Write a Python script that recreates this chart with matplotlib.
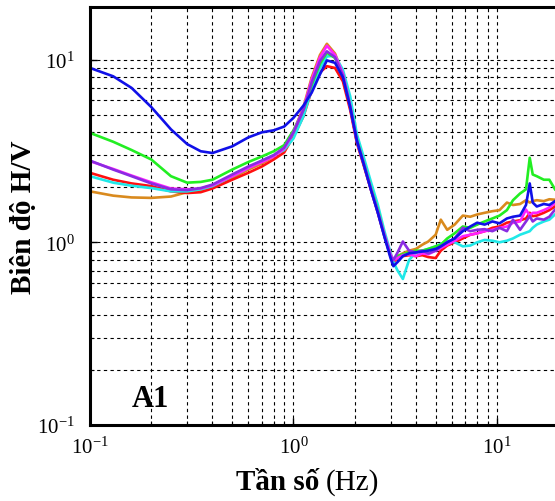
import matplotlib
matplotlib.use("Agg")
import matplotlib.pyplot as plt
from matplotlib.ticker import LogLocator, NullFormatter

plt.rcParams['font.family'] = ['Liberation Serif', 'DejaVu Serif']
plt.rcParams['mathtext.fontset'] = 'custom'
plt.rcParams['mathtext.rm'] = 'Liberation Serif'
plt.rcParams['mathtext.it'] = 'Liberation Serif:italic'
plt.rcParams['mathtext.bf'] = 'Liberation Serif:bold'

freq = [0.10, 0.13, 0.16, 0.20, 0.25, 0.30, 0.35, 0.40, 0.50, 0.60,
        0.70, 0.80, 0.90, 1.00, 1.12, 1.23, 1.35, 1.46, 1.60, 1.75,
        1.90, 2.05, 2.20, 2.40, 2.60, 2.80, 3.00, 3.10, 3.25, 3.45,
        3.70, 4.00, 4.30, 4.60, 5.00, 5.30, 5.70, 6.20, 6.80, 7.40,
        8.00, 8.70, 9.50, 10.3, 11.2, 12.0, 13.0, 13.9, 14.5, 15.0,
        15.7, 17.0, 18.1, 19.3]

blue = [9.0, 8.1, 7.0, 5.5, 4.15, 3.45, 3.15, 3.08, 3.35, 3.75,
        4.0, 4.1, 4.3, 4.8, 5.6, 6.6, 8.3, 9.9, 9.6, 8.0,
        5.5, 3.6, 2.75, 1.95, 1.45, 1.07, 0.82, 0.74, 0.78, 0.84,
        0.87, 0.88, 0.89, 0.90, 0.92, 0.95, 1.00, 1.05, 1.15, 1.22,
        1.28, 1.25, 1.30, 1.27, 1.35, 1.38, 1.40, 1.60, 2.10, 1.65,
        1.57, 1.62, 1.60, 1.68]

green = [3.97, 3.55, 3.2, 2.84, 2.3, 2.12, 2.14, 2.2, 2.5, 2.75,
         2.95, 3.15, 3.4, 4.1, 5.3, 7.3, 9.5, 10.9, 10.2, 8.3,
         5.6, 3.65, 2.8, 2.0, 1.5, 1.1, 0.85, 0.80, 0.84, 0.86,
         0.88, 0.90, 0.90, 0.92, 0.95, 0.97, 1.05, 1.12, 1.22, 1.20,
         1.25, 1.30, 1.35, 1.40, 1.50, 1.70, 1.85, 1.95, 2.90, 2.35,
         2.30, 2.20, 2.20, 1.95]

purple = [2.8, 2.5, 2.3, 2.1, 1.95, 1.93, 1.98, 2.07, 2.35, 2.6,
          2.8, 3.0, 3.3, 4.0, 5.3, 7.5, 9.8, 11.1, 10.3, 8.2,
          5.5, 3.55, 2.75, 1.95, 1.45, 1.08, 0.84, 0.80, 0.88, 1.01,
          0.90, 0.88, 0.90, 0.87, 0.90, 0.95, 1.00, 1.05, 1.20, 1.15,
          1.17, 1.18, 1.15, 1.20, 1.15, 1.33, 1.17, 1.30, 1.39, 1.30,
          1.35, 1.33, 1.38, 1.51]

magenta = [2.78, 2.52, 2.32, 2.13, 1.97, 1.95, 1.97, 2.05, 2.3, 2.55,
           2.75, 2.95, 3.25, 4.0, 5.4, 7.8, 10.3, 11.9, 10.6, 8.4,
           5.6, 3.6, 2.78, 1.97, 1.47, 1.1, 0.86, 0.80, 0.82, 0.85,
           0.86, 0.84, 0.87, 0.86, 0.90, 0.93, 0.97, 1.02, 1.08, 1.10,
           1.12, 1.15, 1.17, 1.20, 1.22, 1.28, 1.30, 1.51, 1.40, 1.45,
           1.45, 1.50, 1.55, 1.64]

red = [2.4, 2.2, 2.1, 2.03, 1.9, 1.86, 1.88, 1.97, 2.2, 2.4,
       2.6, 2.84, 3.1, 3.8, 4.9, 6.8, 8.5, 9.2, 9.0, 7.6,
       5.3, 3.5, 2.7, 1.95, 1.45, 1.08, 0.84, 0.78, 0.82, 0.84,
       0.85, 0.84, 0.85, 0.83, 0.82, 0.90, 0.96, 1.00, 1.05, 1.10,
       1.12, 1.15, 1.20, 1.22, 1.28, 1.30, 1.32, 1.35, 1.45, 1.39,
       1.40, 1.45, 1.50, 1.57]

orange = [1.9, 1.8, 1.76, 1.75, 1.78, 1.88, 1.93, 2.0, 2.25, 2.5,
          2.7, 2.95, 3.25, 4.0, 5.5, 8.0, 10.6, 12.2, 10.8, 8.4,
          5.5, 3.55, 2.75, 1.97, 1.47, 1.1, 0.85, 0.80, 0.84, 0.87,
          0.90, 0.92, 0.97, 1.01, 1.10, 1.33, 1.17, 1.25, 1.40, 1.38,
          1.42, 1.45, 1.48, 1.50, 1.65, 1.60, 1.62, 1.70, 1.65, 1.68,
          1.70, 1.68, 1.72, 1.71]

cyan = [2.3, 2.12, 2.04, 1.98, 1.9, 1.9, 1.95, 2.03, 2.3, 2.55,
        2.8, 3.0, 3.2, 3.7, 4.9, 6.9, 9.0, 10.4, 10.5, 8.8,
        6.3, 3.9, 3.0, 2.15, 1.6, 1.15, 0.88, 0.78, 0.70, 0.63,
        0.80, 0.88, 0.90, 0.92, 0.95, 0.98, 1.02, 1.00, 0.95, 0.96,
        1.00, 1.03, 1.02, 1.00, 1.02, 1.05, 1.10, 1.13, 1.15, 1.20,
        1.25, 1.30, 1.33, 1.42]

series = [
    (orange, '#d98a1e'),
    (red, '#ff1010'),
    (cyan, '#20e8e8'),
    (green, '#22ee22'),
    (magenta, '#ff20ff'),
    (purple, '#8a2be2'),
    (blue, '#1010e8'),
]

fig = plt.figure(figsize=(5.55, 5.02), dpi=100)
ax = fig.add_axes([90/555, 76/502, 465/555, 418/502])

for vals, col in series:
    ax.plot(freq, vals, color=col, lw=1.9, solid_joinstyle='round')

ax.set_xscale('log')
ax.set_yscale('log')
ax.set_xlim(0.1, 19.3)
ax.set_ylim(0.1, 19.4)

ax.xaxis.set_major_locator(LogLocator(base=10, numticks=10))
ax.yaxis.set_major_locator(LogLocator(base=10, numticks=10))
ax.xaxis.set_minor_locator(LogLocator(base=10, subs=range(2, 10), numticks=20))
ax.yaxis.set_minor_locator(LogLocator(base=10, subs=range(2, 10), numticks=20))
ax.xaxis.set_minor_formatter(NullFormatter())
ax.yaxis.set_minor_formatter(NullFormatter())

ax.grid(True, which='both', color='black', linestyle=(0, (3, 3)), linewidth=0.8)
ax.set_axisbelow(True)

for s in ['left', 'top', 'bottom']:
    ax.spines[s].set_linewidth(2.2)
    ax.spines[s].set_color('black')
ax.spines['right'].set_visible(False)

ax.tick_params(which='both', direction='in', top=False, right=False)
ax.tick_params(which='major', length=5, width=1, labelsize=15)
ax.tick_params(axis='x', which='major', pad=8)
ax.tick_params(axis='y', which='major', pad=11)
ax.tick_params(which='minor', length=3, width=0.8)

fig.text(24/555, 1 - 217/502, 'Biên độ H/V', fontsize=21, fontweight='bold',
         rotation=90, ha='center', va='center')

fig.text(0.5 * (90 + 555) / 555 - 0.005, 12/502, 'Tần số', fontsize=21, fontweight='bold',
         ha='right', va='baseline')
fig.text(0.5 * (90 + 555) / 555 + 0.005, 12/502, '(Hz)', fontsize=21, fontweight='normal',
         ha='left', va='baseline')

ax.text(0.129, 0.045, 'A1', transform=ax.transAxes, fontsize=22, fontweight='bold',
        ha='center', va='baseline')

fig.savefig('out.png', dpi=100)
